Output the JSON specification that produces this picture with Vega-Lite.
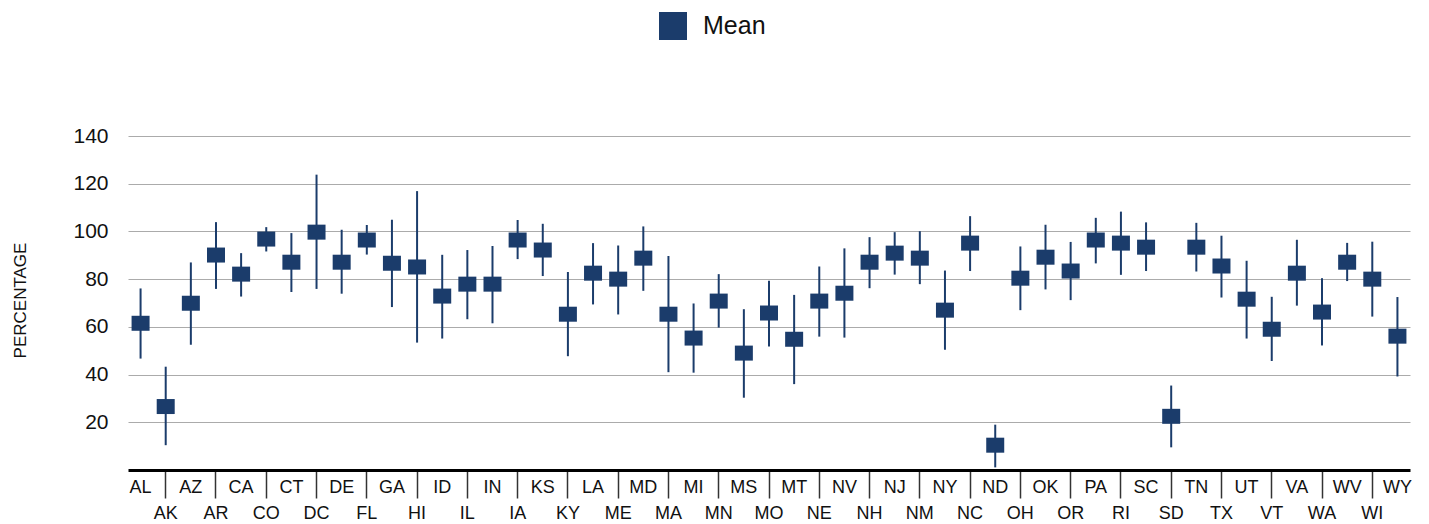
{
  "$schema": "https://vega.github.io/schema/vega-lite/v6.json",
  "autosize": "none",
  "width": 1282,
  "height": 334,
  "padding": {"left": 128, "top": 136, "right": 19, "bottom": 54},
  "background": "white",
  "config": {
    "view": {"stroke": null},
    "font": "Liberation Sans, sans-serif"
  },
  "data": {
    "values": [
      {"state": "AL", "mean": 61.5, "low": 46.7, "high": 76.1},
      {"state": "AK", "mean": 26.6, "low": 10.4, "high": 43.3},
      {"state": "AZ", "mean": 69.9, "low": 52.5, "high": 87.0},
      {"state": "AR", "mean": 90.1, "low": 75.9, "high": 103.9},
      {"state": "CA", "mean": 82.1, "low": 72.7, "high": 90.9},
      {"state": "CO", "mean": 96.8, "low": 91.6, "high": 101.8},
      {"state": "CT", "mean": 87.1, "low": 74.6, "high": 99.3},
      {"state": "DC", "mean": 99.7, "low": 75.9, "high": 123.8},
      {"state": "DE", "mean": 87.1, "low": 73.9, "high": 100.7},
      {"state": "FL", "mean": 96.4, "low": 90.3, "high": 102.7},
      {"state": "GA", "mean": 86.7, "low": 68.3, "high": 104.9},
      {"state": "HI", "mean": 85.1, "low": 53.4, "high": 116.9},
      {"state": "ID", "mean": 72.9, "low": 55.1, "high": 90.2},
      {"state": "IL", "mean": 77.9, "low": 63.2, "high": 92.2},
      {"state": "IN", "mean": 77.9, "low": 61.5, "high": 93.9},
      {"state": "IA", "mean": 96.4, "low": 88.4, "high": 104.8},
      {"state": "KS", "mean": 92.2, "low": 81.3, "high": 103.2},
      {"state": "KY", "mean": 65.3, "low": 47.7, "high": 83.0},
      {"state": "LA", "mean": 82.5, "low": 69.4, "high": 95.1},
      {"state": "ME", "mean": 80.0, "low": 65.2, "high": 94.1},
      {"state": "MD", "mean": 88.8, "low": 75.1, "high": 102.1},
      {"state": "MA", "mean": 65.3, "low": 41.0, "high": 89.7},
      {"state": "MI", "mean": 55.3, "low": 40.8, "high": 69.8},
      {"state": "MN", "mean": 70.8, "low": 59.7, "high": 82.1},
      {"state": "MS", "mean": 49.0, "low": 30.3, "high": 67.4},
      {"state": "MO", "mean": 65.8, "low": 51.8, "high": 79.3},
      {"state": "MT", "mean": 54.8, "low": 36.0, "high": 73.4},
      {"state": "NE", "mean": 70.8, "low": 55.9, "high": 85.3},
      {"state": "NV", "mean": 74.1, "low": 55.5, "high": 92.9},
      {"state": "NH", "mean": 87.1, "low": 76.2, "high": 97.6},
      {"state": "NJ", "mean": 90.9, "low": 81.9, "high": 99.7},
      {"state": "NM", "mean": 88.8, "low": 77.9, "high": 100.1},
      {"state": "NY", "mean": 67.0, "low": 50.4, "high": 83.6},
      {"state": "NC", "mean": 95.1, "low": 83.4, "high": 106.4},
      {"state": "ND", "mean": 10.4, "low": 1.1, "high": 19.0},
      {"state": "OH", "mean": 80.4, "low": 67.0, "high": 93.7},
      {"state": "OK", "mean": 89.2, "low": 75.7, "high": 102.8},
      {"state": "OR", "mean": 83.4, "low": 71.2, "high": 95.6},
      {"state": "PA", "mean": 96.4, "low": 86.6, "high": 105.7},
      {"state": "RI", "mean": 95.1, "low": 81.8, "high": 108.3},
      {"state": "SC", "mean": 93.4, "low": 83.4, "high": 103.8},
      {"state": "SD", "mean": 22.5, "low": 9.5, "high": 35.4},
      {"state": "TN", "mean": 93.4, "low": 83.2, "high": 103.6},
      {"state": "TX", "mean": 85.5, "low": 72.3, "high": 98.2},
      {"state": "UT", "mean": 71.6, "low": 55.1, "high": 87.7},
      {"state": "VT", "mean": 59.0, "low": 45.7, "high": 72.6},
      {"state": "VA", "mean": 82.5, "low": 68.9, "high": 96.5},
      {"state": "WA", "mean": 66.2, "low": 52.2, "high": 80.4},
      {"state": "WV", "mean": 87.1, "low": 79.2, "high": 95.2},
      {"state": "WI", "mean": 80.0, "low": 64.3, "high": 95.7},
      {"state": "WY", "mean": 56.1, "low": 39.2, "high": 72.5}
    ]
  },
  "encoding": {
    "x": {
      "field": "state",
      "type": "nominal",
      "sort": null,
      "scale": {"type": "band", "paddingInner": 0, "paddingOuter": 0},
      "axis": {
        "title": null,
        "labelAngle": 0,
        "labelFontSize": 18,
        "labelColor": "#111111",
        "labelBaseline": "top",
        "labelPadding": {
          "condition": {
            "test": "indexof(['AK','AR','CO','DC','FL','HI','IL','IA','KY','ME','MA','MN','MO','NE','NH','NM','NC','OH','OR','RI','SD','TX','VT','WA','WI'], datum.value) >= 0",
            "value": 6
          },
          "value": 8
        },
        "tickSize": {
          "condition": {
            "test": "indexof(['AK','AR','CO','DC','FL','HI','IL','IA','KY','ME','MA','MN','MO','NE','NH','NM','NC','OH','OR','RI','SD','TX','VT','WA','WI'], datum.value) >= 0",
            "value": 28
          },
          "value": 0
        },
        "tickColor": "#333333",
        "tickWidth": 1.5,
        "domainColor": "#000000",
        "domainWidth": 3,
        "labelOverlap": false,
        "labelBound": false
      }
    }
  },
  "layer": [
    {
      "mark": {"type": "rule", "color": "#1b3c6b", "strokeWidth": 2},
      "encoding": {
        "y": {"field": "low", "type": "quantitative"},
        "y2": {"field": "high"}
      }
    },
    {
      "mark": {"type": "tick", "size": 18, "thickness": 15, "opacity": 1},
      "encoding": {
        "y": {
          "field": "mean",
          "type": "quantitative",
          "scale": {"domain": [0, 140], "nice": false, "zero": true},
          "axis": {
            "title": "PERCENTAGE",
            "titleFontSize": 17,
            "titleFontWeight": "normal",
            "titleColor": "#111111",
            "titleX": -108,
            "titleY": 164,
            "titleAngle": -90,
            "titleAlign": "center",
            "titleBaseline": "middle",
            "values": [20, 40, 60, 80, 100, 120, 140],
            "labelFontSize": 21,
            "labelColor": "#111111",
            "labelPadding": 20,
            "ticks": false,
            "domain": false,
            "grid": true,
            "gridColor": "#ababab",
            "gridWidth": 1.2
          }
        },
        "color": {
          "datum": "Mean",
          "type": "nominal",
          "scale": {"range": ["#1b3c6b"]},
          "legend": {
            "title": null,
            "orient": "none",
            "legendX": 531,
            "legendY": -124,
            "padding": 0,
            "symbolType": "square",
            "symbolSize": 784,
            "symbolStrokeWidth": 0,
            "symbolOpacity": 1,
            "labelFontSize": 25,
            "labelColor": "#111111",
            "labelOffset": 16
          }
        }
      }
    }
  ]
}
